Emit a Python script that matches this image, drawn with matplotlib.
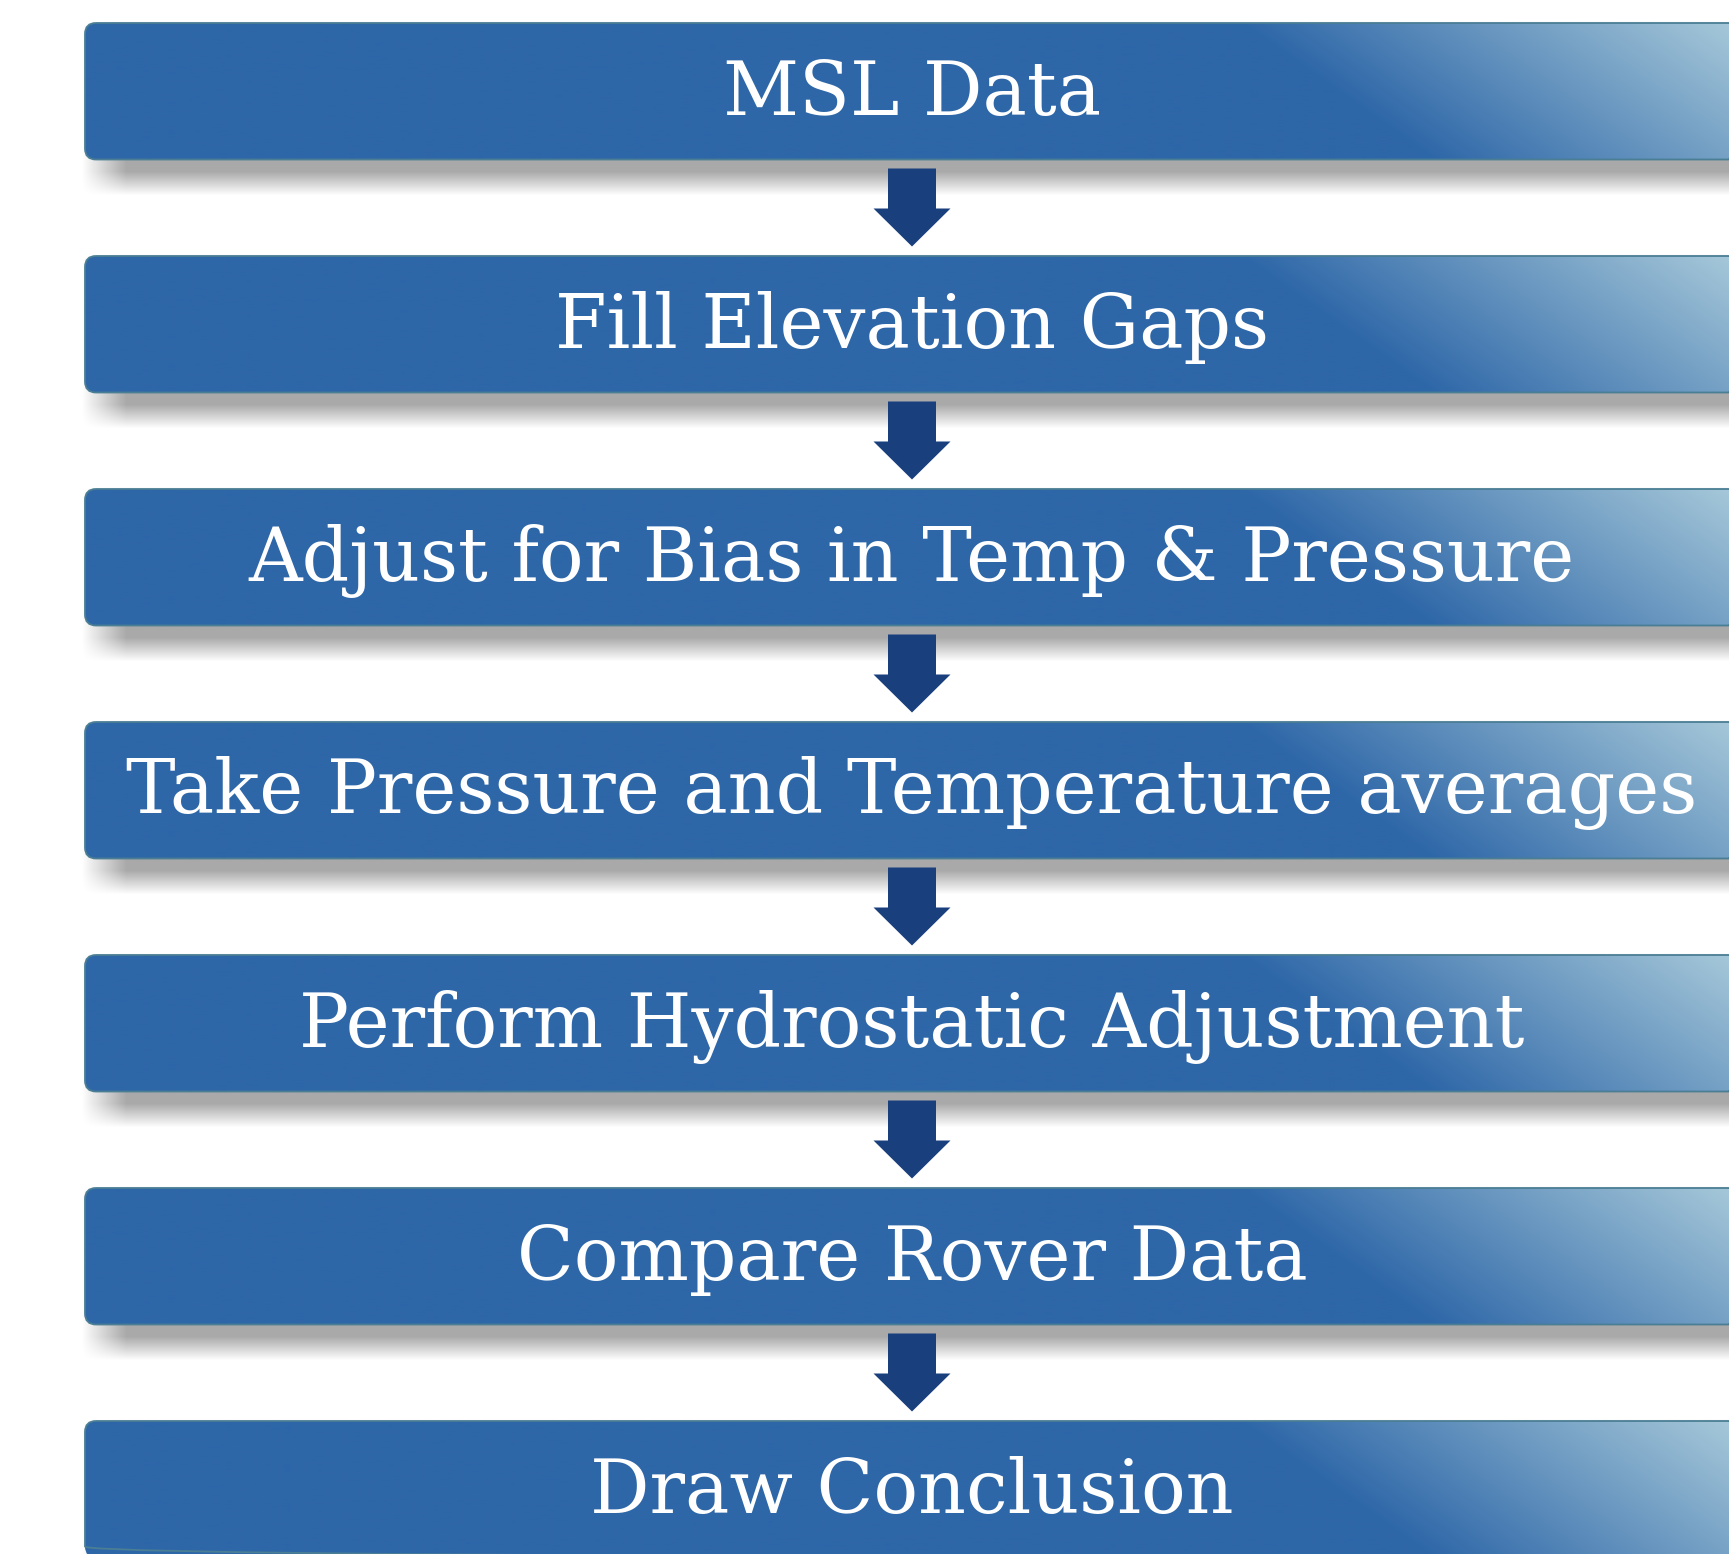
import numpy as np
import matplotlib
matplotlib.use("Agg")
import matplotlib.pyplot as plt
from matplotlib.patches import FancyBboxPatch, Polygon
from matplotlib.colors import to_rgb

# flowchart steps, top to bottom
steps = [
    "MSL Data",
    "Fill Elevation Gaps",
    "Adjust for Bias in Temp & Pressure",
    "Take Pressure and Temperature averages",
    "Perform Hydrostatic Adjustment",
    "Compare Rover Data",
    "Draw Conclusion",
]

# layout in pixels (canvas is 1729 x 1554)
W, H = 1729, 1554
box_left, box_right = 85, 1739
box_h = 136.5
pitch = 233
top0 = 23
radius = 11
cx = (box_left + box_right) / 2

dark = np.array(to_rgb("#2E67A8"))
light = np.array(to_rgb("#A6C8D9"))
edge_c = "#4A7E94"
arrow_c = "#193F7D"

fig = plt.figure(figsize=(W / 100, H / 100), dpi=100)
ax = fig.add_axes([0, 0, 1, 1])
ax.set_xlim(0, W)
ax.set_ylim(H, 0)
ax.axis("off")


def ramp(d, w):
    return np.clip(0.5 + d / w, 0, 1)


# soft drop shadows under every box
yy, xx = np.mgrid[0:H, 0:W].astype(np.float32) + 0.5
shadow = np.zeros((H, W), dtype=np.float32)
for i in range(len(steps)):
    t = top0 + i * pitch
    b = t + box_h
    a = (ramp(xx - 104, 45) * ramp(box_right + 20 - xx, 45)
         * ramp(yy - (t + 4), 12) * ramp(b + 24 - yy, 24))
    shadow = np.maximum(shadow, a)
rgba = np.zeros((H, W, 4), dtype=np.float32)
rgba[..., 3] = shadow * 0.34
ax.imshow(rgba, extent=(0, W, H, 0), zorder=1, interpolation="bilinear")

for i, label in enumerate(steps):
    t = top0 + i * pitch
    b = t + box_h

    patch = FancyBboxPatch((box_left, t), box_right - box_left, box_h,
                           boxstyle=f"round,pad=0,rounding_size={radius}",
                           fc="none", ec=edge_c, lw=1.3, zorder=3)
    ax.add_patch(patch)

    # diagonal gradient: flat dark blue, lightening toward the top-right
    gx = np.arange(box_left, box_right + 1, dtype=float)
    gy = np.linspace(t, b, 140)
    X, Y = np.meshgrid(gx, gy)
    u = ((X - 1240) * 135 - (Y - t) * 190) / 233.0
    s = np.clip(u / 285.0, 0, 1)[..., None]
    img = dark + (light - dark) * s
    im = ax.imshow(img, extent=(box_left, box_right, b, t), zorder=2,
                   interpolation="bilinear")
    im.set_clip_path(patch)

    ax.text(cx, t + 91.5, label, ha="center", va="baseline", color="white",
            fontsize=53.5, family="DejaVu Serif", zorder=5)

    # down arrow to the next step
    if i < len(steps) - 1:
        pts = [(cx - 24, b + 9), (cx + 24, b + 9), (cx + 24, b + 49),
               (cx + 38.5, b + 49), (cx, b + 87), (cx - 38.5, b + 49),
               (cx - 24, b + 49)]
        ax.add_patch(Polygon(pts, closed=True, fc=arrow_c, ec="none", zorder=4))

fig.savefig("out.png", dpi=100)
